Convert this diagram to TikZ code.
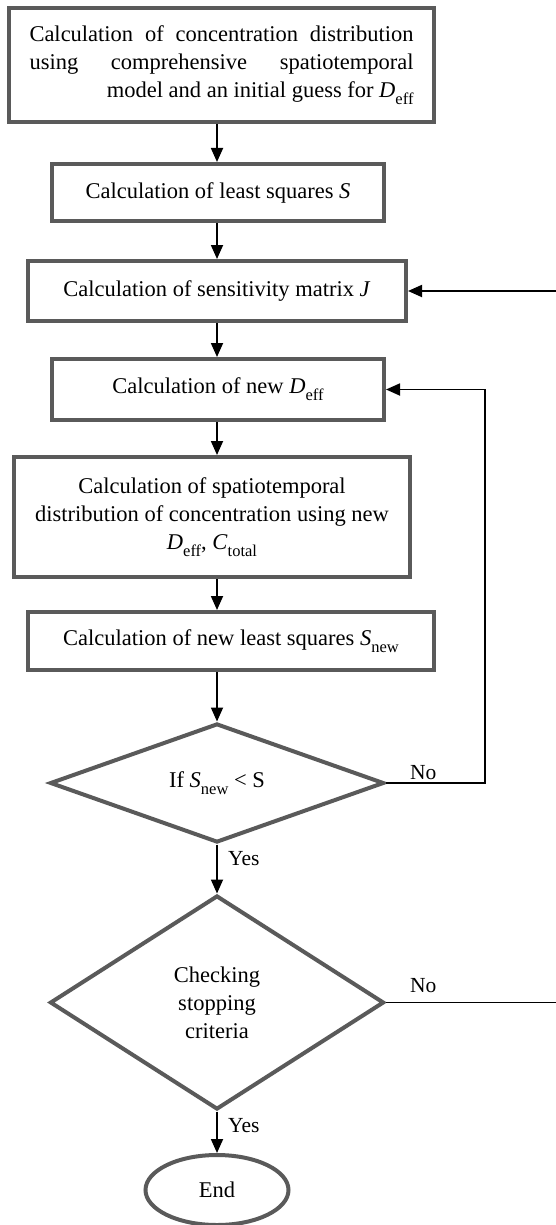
\documentclass[tikz,border=0pt]{standalone}
\usepackage{fontspec}
\setmainfont{Liberation Serif}
\usetikzlibrary{shapes.geometric,arrows.meta}
\definecolor{boxgray}{RGB}{90,90,90}
\newcommand\sbs[1]{\raisebox{-0.32em}{\fontsize{16.5}{16.5}\selectfont #1}}
\begin{document}
\begin{tikzpicture}[x=1pt,y=-1pt,
  every node/.style={font=\fontsize{22.5}{28}\selectfont},
  box/.style={draw=boxgray,line width=4pt,fill=white,rectangle,inner sep=0pt,align=center},
  dia/.style={draw=boxgray,line width=4pt,fill=white,diamond,inner sep=0pt,align=center},
  term/.style={draw=boxgray,line width=4pt,fill=white,ellipse,inner sep=0pt},
  conn/.style={draw=black,line width=1.8pt,-{Triangle[length=14pt,width=12pt]}},
  lbl/.style={font=\fontsize{21.5}{24}\selectfont,inner sep=0pt}]
\useasboundingbox (0,0) rectangle (556,1225);
\node[box,minimum width=425pt,minimum height=114pt] (b1) at (221.5,65)
  {\makebox[384pt][s]{Calculation of concentration distribution}\\
   \makebox[384pt][s]{using comprehensive spatiotemporal}\\
   \makebox[384pt][r]{model and an initial guess for \textit{D}\sbs{eff}}};
\node[box,minimum width=332pt,minimum height=57pt] (b2) at (218,192.5)
  {Calculation of least squares \textit{S}};
\node[box,minimum width=378pt,minimum height=60pt] (b3) at (217,291)
  {Calculation of sensitivity matrix \textit{J}};
\node[box,minimum width=332pt,minimum height=61pt] (b4) at (218,389.5)
  {Calculation of new \textit{D}\sbs{eff}};
\node[box,minimum width=396pt,minimum height=120pt] (b5) at (212,517)
  {Calculation of spatiotemporal\\distribution of concentration using new\\\textit{D}\sbs{eff}, \textit{C}\sbs{total}};
\node[box,minimum width=406pt,minimum height=58pt] (b6) at (231,641)
  {Calculation of new least squares \textit{S}\sbs{new}};
\node[dia,minimum width=334pt,minimum height=116pt] (d1) at (217,783)
  {If \textit{S}\sbs{new} < S};
\node[dia,minimum width=334pt,minimum height=214pt] (d2) at (217,1002.5)
  {Checking\\stopping\\criteria};
\node[term,minimum width=143pt,minimum height=70pt] (e) at (217,1190) {End};
\coordinate (ax) at (217,0);
\coordinate (c1) at (485,783);
\coordinate (c2) at (562,1002.5);
\draw[conn] (b1.south -| ax) -- (b2.north -| ax);
\draw[conn] (b2.south -| ax) -- (b3.north -| ax);
\draw[conn] (b3.south -| ax) -- (b4.north -| ax);
\draw[conn] (b4.south -| ax) -- (b5.north -| ax);
\draw[conn] (b5.south -| ax) -- (b6.north -| ax);
\draw[conn] (b6.south -| ax) -- (d1.north);
\draw[conn] (d1.south) -- (d2.north);
\draw[conn] (d2.south) -- (e.north);
\draw[conn] (d1.east) -- (c1) |- (b4.east);
\draw[conn] (d2.east) -- (c2) |- (b3.east);
\node[lbl,anchor=west] at (410,773) {No};
\node[lbl,anchor=west] at (410,986) {No};
\node[lbl,anchor=west] at (228,859) {Yes};
\node[lbl,anchor=west] at (228,1126) {Yes};
\end{tikzpicture}
\end{document}
